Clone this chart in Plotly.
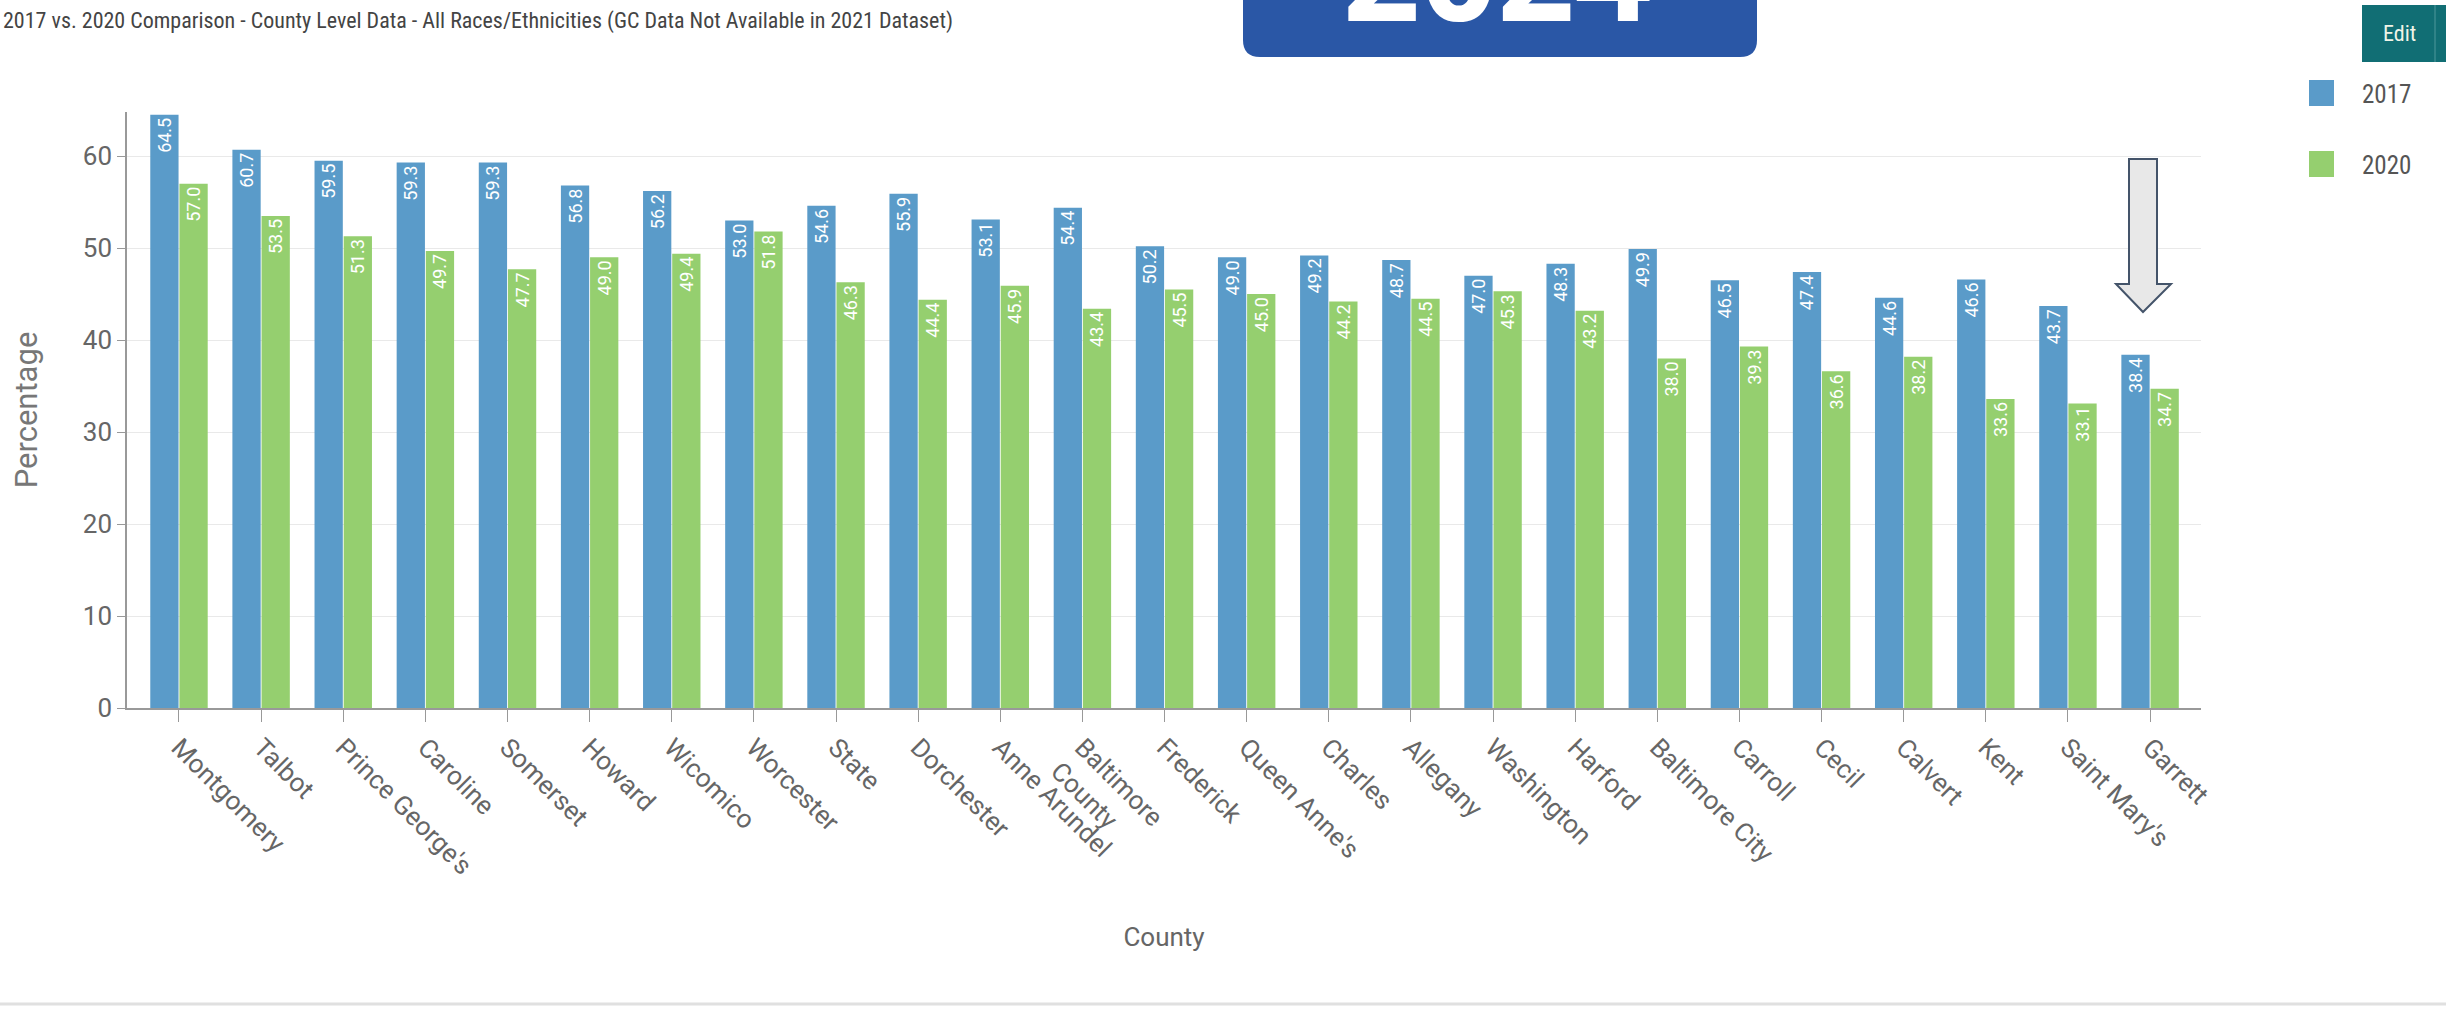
import plotly.graph_objects as go

counties = ["Montgomery", "Talbot", "Prince George's", "Caroline", "Somerset", "Howard",
            "Wicomico", "Worcester", "State", "Dorchester", "Anne Arundel", "Baltimore<br>County",
            "Frederick", "Queen Anne's", "Charles", "Allegany", "Washington", "Harford",
            "Baltimore City", "Carroll", "Cecil", "Calvert", "Kent", "Saint Mary's", "Garrett"]
vals_2017 = [64.5, 60.7, 59.5, 59.3, 59.3, 56.8, 56.2, 53.0, 54.6, 55.9, 53.1, 54.4,
             50.2, 49.0, 49.2, 48.7, 47.0, 48.3, 49.9, 46.5, 47.4, 44.6, 46.6, 43.7, 38.4]
vals_2020 = [57.0, 53.5, 51.3, 49.7, 47.7, 49.0, 49.4, 51.8, 46.3, 44.4, 45.9, 43.4,
             45.5, 45.0, 44.2, 44.5, 45.3, 43.2, 38.0, 39.3, 36.6, 38.2, 33.6, 33.1, 34.7]
series_names = ["2017", "2020"]
y_ticks = [0, 10, 20, 30, 40, 50, 60]

title_text = "2017 vs. 2020 Comparison - County Level Data - All Races/Ethnicities (GC Data Not Available in 2021 Dataset)"
badge_text = "2024"

W, H = 2446, 1009
L, R, T, B = 127, 245, 112, 301
PW, PH = W - L - R, H - T - B

def px_x(px):
    return (px - L) / PW

def px_y(py):
    return (H - B - py) / PH

BLUE = "#5A9BC9"
GREEN = "#95CF6F"
NARROW = "Liberation Sans Narrow, Arial Narrow, Roboto Condensed, Roboto, sans-serif"
BASE = "Roboto, Open Sans, sans-serif"

fig = go.Figure()
for name, vals, col in [(series_names[0], vals_2017, BLUE), (series_names[1], vals_2020, GREEN)]:
    fig.add_trace(go.Bar(
        x=counties, y=vals, name=name, marker=dict(color=col, line=dict(width=0)),
        texttemplate="%{y:.1f}", textposition="inside", insidetextanchor="end",
        textangle=-90, insidetextfont=dict(color="white", size=18, family=BASE),
        showlegend=False,
    ))

shapes = []
# badge
x0, x1, yb, r = 1243, 1757, 57, 17
path = (f"M {px_x(x0)},{px_y(-20)} L {px_x(x1)},{px_y(-20)} L {px_x(x1)},{px_y(yb - r)} "
        f"Q {px_x(x1)},{px_y(yb)} {px_x(x1 - r)},{px_y(yb)} L {px_x(x0 + r)},{px_y(yb)} "
        f"Q {px_x(x0)},{px_y(yb)} {px_x(x0)},{px_y(yb - r)} Z")
shapes.append(dict(type="path", xref="paper", yref="paper", path=path,
                   fillcolor="#2A57A6", line=dict(width=0), layer="above"))
# edit button
shapes.append(dict(type="rect", xref="paper", yref="paper", x0=px_x(2362), x1=px_x(2450),
                   y0=px_y(62), y1=px_y(5), fillcolor="#116E74", line=dict(width=0)))
shapes.append(dict(type="line", xref="paper", yref="paper", x0=px_x(2435), x1=px_x(2435),
                   y0=px_y(62), y1=px_y(5), line=dict(color="#4E979B", width=1)))
# legend squares
for (yt, col) in [(80, BLUE), (151, GREEN)]:
    shapes.append(dict(type="rect", xref="paper", yref="paper", x0=px_x(2309), x1=px_x(2334),
                       y0=px_y(yt + 26), y1=px_y(yt), fillcolor=col, line=dict(width=0)))
# arrow
pts = [(2129, 159), (2157, 159), (2157, 284), (2171, 284), (2143, 312), (2116, 284), (2129, 284)]
apath = "M " + " L ".join(f"{px_x(a)},{px_y(b)}" for a, b in pts) + " Z"
shapes.append(dict(type="path", xref="paper", yref="paper", path=apath,
                   fillcolor="#E8E8E8", line=dict(color="#44546A", width=2), layer="above"))
# bottom rule
shapes.append(dict(type="line", xref="paper", yref="paper", x0=px_x(0), x1=px_x(W),
                   y0=px_y(1004), y1=px_y(1004), line=dict(color="#E0E0E0", width=3)))

annotations = [
    dict(text=title_text, xref="paper", yref="paper", x=px_x(1), y=px_y(21), xanchor="left",
         yanchor="middle", showarrow=False, font=dict(family=NARROW, size=22, color="#444444")),
    dict(text=badge_text, xref="paper", yref="paper", x=px_x(1497), y=px_y(63), xanchor="center",
         yanchor="bottom", showarrow=False,
         font=dict(family="Open Sans, sans-serif", size=135, color="white", weight="bold")),
    dict(text="Edit", xref="paper", yref="paper", x=px_x(2399), y=px_y(33), xanchor="center",
         yanchor="middle", showarrow=False, font=dict(family=NARROW, size=22, color="#F0F4E8")),
    dict(text=series_names[0], xref="paper", yref="paper", x=px_x(2360), y=px_y(94), xanchor="left",
         yanchor="middle", showarrow=False, font=dict(family=NARROW, size=25, color="#555555")),
    dict(text=series_names[1], xref="paper", yref="paper", x=px_x(2360), y=px_y(165), xanchor="left",
         yanchor="middle", showarrow=False, font=dict(family=NARROW, size=25, color="#555555")),
]

fig.update_layout(
    width=W, height=H, margin=dict(l=L, r=R, t=T, b=B, autoexpand=False),
    paper_bgcolor="white", plot_bgcolor="white",
    barmode="group", bargap=0.29, bargroupgap=0.03,
    showlegend=False, shapes=shapes, annotations=annotations,
    font=dict(family=BASE, color="#666666"),
)
fig.update_xaxes(
    range=[-0.633, 24.62], tickangle=45, ticks="outside", ticklen=12, tickcolor="#999999",
    showline=True, linecolor="#999999", linewidth=1.5, showgrid=False,
    tickfont=dict(size=26, color="#666666", family=BASE),
    title=dict(text="County", font=dict(size=26, color="#666666", family=BASE), standoff=48),
    automargin=False,
)
fig.update_yaxes(
    range=[0, 64.8], tickvals=y_ticks, ticks="outside", ticklen=8, tickcolor="#999999",
    showline=True, linecolor="#999999", linewidth=1.5, showgrid=True, gridcolor="#E9E9E9",
    gridwidth=1, zeroline=False,
    tickfont=dict(size=26, color="#666666", family=BASE),
    title=dict(text="Percentage", font=dict(size=31, color="#777777", family=BASE), standoff=36),
    automargin=False,
)

fig.write_html("out.html", config={"displayModeBar": False},
               post_script="document.body.style.margin='0px';document.body.style.overflow='hidden';")
